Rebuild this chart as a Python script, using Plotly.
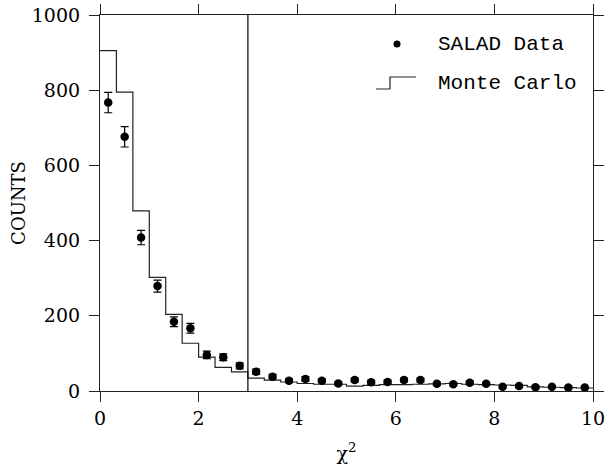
import plotly.graph_objects as go

# ---- data ----
bin_edges = [i / 3 for i in range(31)]
bin_centers = [(bin_edges[i] + bin_edges[i + 1]) / 2 for i in range(30)]

salad_counts = [767, 676, 408, 279, 184, 167, 96, 90, 67, 51,
                38, 27, 32, 27, 20, 29, 23, 24, 29, 29,
                19, 18, 22, 19, 11, 13, 10, 11, 9, 9]
salad_errors = [27, 27, 19, 16, 13, 13, 10, 9, 8, 7,
                6, 5, 6, 5, 4, 5, 5, 5, 5, 5,
                4, 4, 5, 4, 3, 4, 3, 3, 3, 3]
mc_counts = [905, 795, 479, 302, 204, 127, 90, 63, 51, 34,
             29, 24, 20, 18, 18, 13, 15, 17, 17, 18,
             19, 20, 18, 17, 16, 15, 11, 10, 9, 8]
cut_value = 3.0

x_ticks = [0, 2, 4, 6, 8, 10]
y_ticks = [0, 200, 400, 600, 800, 1000]
x_range = [0, 10]
y_range = [0, 1000]

# ---- figure ----
fig = go.Figure()

mc_x = bin_edges[:-1] + [bin_edges[-1]]
mc_y = mc_counts + [mc_counts[-1]]
fig.add_trace(go.Scatter(
    x=mc_x, y=mc_y, mode="lines", line=dict(shape="hv", color="#222222", width=1.2),
    name="Monte Carlo", showlegend=False, hoverinfo="skip"))

fig.add_trace(go.Scatter(
    x=bin_centers, y=salad_counts, mode="markers",
    marker=dict(color="black", size=8.5),
    error_y=dict(type="data", array=salad_errors, color="black", thickness=1.2, width=4),
    name="SALAD Data", showlegend=False))

# invisible trace on the top/right axes so their ticks are drawn
fig.add_trace(go.Scatter(x=[x_range[0]], y=[y_range[0]], xaxis="x2", yaxis="y2",
                         mode="markers", marker=dict(opacity=0), showlegend=False, hoverinfo="skip"))

fig.add_shape(type="line", xref="x", yref="paper", x0=cut_value, x1=cut_value, y0=0, y1=1,
              line=dict(color="black", width=1.2))

# custom legend (positions in picture pixels, converted to paper coords)
font_leg = dict(family="Liberation Mono, Courier New, monospace", size=21, color="black")
px = lambda v: (v - 100) / 493
py = lambda v: (391 - v) / 376
fig.add_annotation(xref="paper", yref="paper", x=px(436), y=py(45),
                   text="SALAD Data", showarrow=False, xanchor="left", yanchor="middle", font=font_leg)
fig.add_annotation(xref="paper", yref="paper", x=px(436), y=py(84),
                   text="Monte Carlo", showarrow=False, xanchor="left", yanchor="middle", font=font_leg)
fig.add_shape(type="circle", xref="paper", yref="paper",
              x0=px(397 - 3.5), x1=px(397 + 3.5),
              y0=py(44 + 3.5), y1=py(44 - 3.5),
              fillcolor="black", line=dict(color="black", width=0))
fig.add_shape(type="path", xref="paper", yref="paper",
              path=f"M {px(376)},{py(89)} L {px(390)},{py(89)} L {px(390)},{py(77)} L {px(416)},{py(77)}",
              line=dict(color="#222222", width=1.2))

axis_common = dict(showline=True, linecolor="#222222", linewidth=1.2, mirror=True,
                   ticks="outside", ticklen=10, tickwidth=1.2, tickcolor="#222222",
                   showgrid=False, zeroline=False, automargin=False,
                   ticklabeloverflow="allow",
                   tickfont=dict(family="DejaVu Serif", size=19, color="black"))
mirror_ticks = dict(showticklabels=False, ticks="outside", ticklen=10, tickwidth=1.2,
                    tickcolor="#222222", showline=False, showgrid=False, zeroline=False,
                    automargin=False)

fig.update_layout(
    xaxis=dict(range=x_range, tickvals=x_ticks, ticktext=[str(v) for v in x_ticks],
               title=dict(text="χ<sup>2</sup>", font=dict(family="DejaVu Serif", size=19, color="black"),
                          standoff=18),
               **axis_common),
    yaxis=dict(range=y_range, tickvals=y_ticks, ticktext=[str(v) for v in y_ticks],
               ticklabelstandoff=5,
               title=dict(text="COUNTS", font=dict(family="DejaVu Serif", size=18, color="black"),
                          standoff=1),
               **axis_common),
    xaxis2=dict(range=x_range, tickvals=x_ticks, overlaying="x", side="top", anchor="y",
                **mirror_ticks),
    yaxis2=dict(range=y_range, tickvals=y_ticks, overlaying="y", side="right", anchor="x",
                **mirror_ticks),
    width=605, height=468, margin=dict(l=100, r=12, t=15, b=77),
    plot_bgcolor="white", paper_bgcolor="white", showlegend=False)

fig.write_html("out.html", config={"displayModeBar": False},
               post_script="document.body.style.margin='0';")
